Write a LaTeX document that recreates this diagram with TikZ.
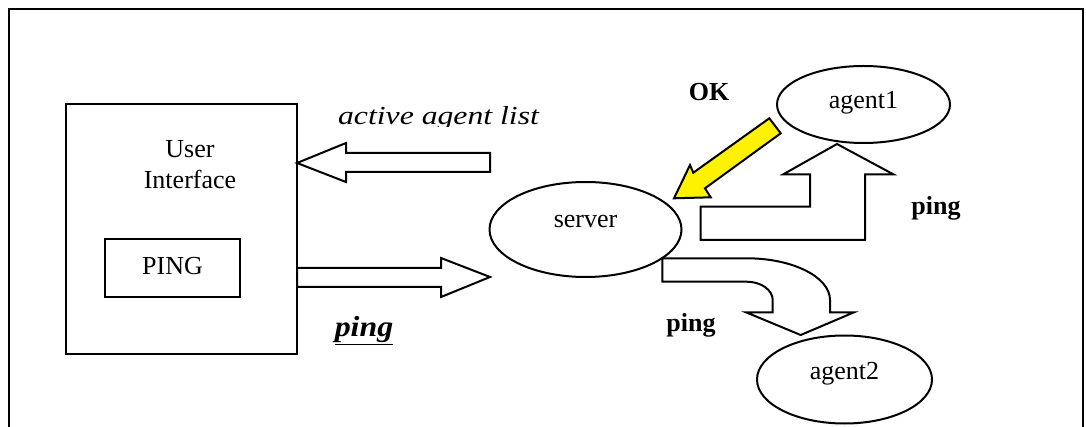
\documentclass[tikz,border=0pt]{standalone}
\usepackage{fontspec}
\setmainfont{Liberation Serif}
\usetikzlibrary{shapes.geometric}
\begin{document}
\begin{tikzpicture}[x=1pt,y=-1pt,line width=2pt,line join=miter,
  txt/.style={inner sep=0pt,anchor=base,font=\fontsize{26}{31}\selectfont},
  boldtxt/.style={txt,font=\fontsize{26}{31}\selectfont\bfseries},
  agentnode/.style={draw,ellipse,inner sep=0pt,font=\fontsize{26}{31}\selectfont},
  boxnode/.style={draw,rectangle,inner sep=0pt},
  blockarrow/.style={draw,fill=white},
  okarrow/.style={draw,fill=yellow}]
\useasboundingbox (0,0) rectangle (1086,427);

% outer frame, open at the bottom
\draw[line width=2.4pt] (9,427) -- (9,9) -- (1083,9) -- (1083,427);

% user interface with its PING button
\node[boxnode,minimum width=231pt,minimum height=250pt] (ui) at (181.5,229) {};
\node[txt] (uiline1) at (190,158) {User};
\node[txt] (uiline2) at (190,189) {Interface};
\node[boxnode,minimum width=135pt,minimum height=58pt,
      font=\fontsize{26}{31}\selectfont,text depth=5pt] (pingbtn) at (172.5,268) {PING};

% server and agents
\node[agentnode,minimum width=192pt,minimum height=95pt,text height=0pt,text depth=4.4pt]
  (server) at (585.5,229.5) {server};
\node[agentnode,minimum width=173pt,minimum height=77pt,text height=7.6pt,text depth=0pt]
  (agent1) at (863.5,104.5) {agent1};
\node[agentnode,minimum width=175pt,minimum height=88pt,text height=0.6pt,text depth=0pt]
  (agent2) at (844.5,379.5) {agent2};

% active agent list: server -> user interface
\draw[blockarrow] (297,163) -- (346,143) -- (346,153) -- (490,153) -- (490,172)
  -- (346,172) -- (346,182) -- cycle;
\begin{scope}
  \clip (330,100) rectangle (550,127);
  \node[txt] (listlbl) at (438.5,125)
    {\scalebox{1.22}[1]{\itshape active agent list}};
\end{scope}

% ping request: user interface -> server
\draw[blockarrow] (297,268) -- (441,268) -- (441,258) -- (490,277) -- (441,297)
  -- (441,287) -- (297,287) -- cycle;
\node[txt,font=\fontsize{29}{33}\selectfont\bfseries\itshape] (pinglbl) at (364,337)
  {\scalebox{1.1}[1]{\underline{ping}}};

% ping: server -> agent1
\draw[blockarrow] (700.7,240) -- (700.7,206.7) -- (810,206.7) -- (810,174.3)
  -- (783.3,174.3) -- (837,144) -- (893.3,174.3) -- (865,174.3) -- (865,240) -- cycle;
\node[boldtxt] (ping1lbl) at (936,215) {ping};

% ping: server -> agent2
\draw[blockarrow] (662.3,258.3) -- (746.7,258.3) arc (270:360:83.3 and 41.7)
  -- (830,312.3) -- (854,312.3) -- (800.7,335) -- (746,312.3) -- (772.7,312.3)
  -- (772.7,300) arc (360:270:26 and 18.3) -- (662.3,281.7) -- cycle;
\node[boldtxt] (ping2lbl) at (691,331.7) {ping};

% OK reply: agent1 -> server
\draw[okarrow] (674,198.3) -- (690,165) -- (693.3,172.7) -- (769.3,118.3)
  -- (780.7,133.3) -- (705,188.3) -- (710.7,197.3) -- cycle;
\node[boldtxt] (oklbl) at (709,101) {OK};
\end{tikzpicture}
\end{document}
